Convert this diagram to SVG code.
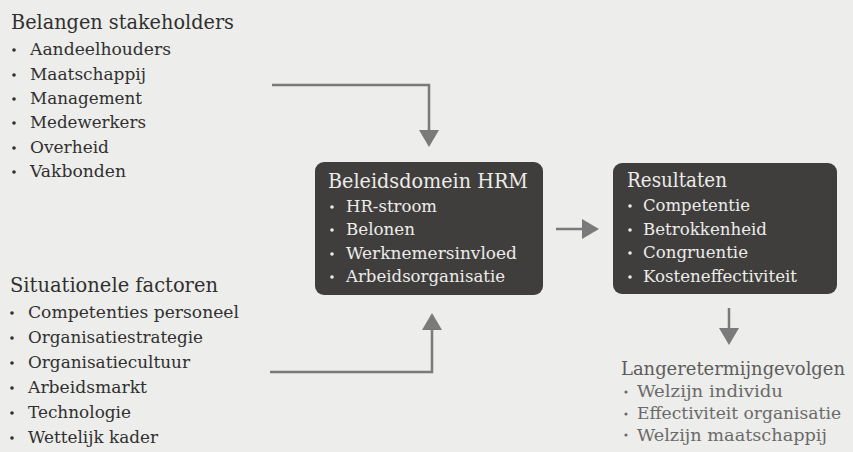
<svg xmlns="http://www.w3.org/2000/svg" width="853" height="452" viewBox="0 0 853 452">
<defs>
<style>
.t{font-family:"DejaVu Serif","Liberation Serif",serif;}
.h{font-size:19.5px;}
.i{font-size:17px;}
.s{font-size:16px;}
.dk{fill:#303030;}
.lt{fill:#ececea;}
.gr{fill:#5c5c5c;}
.gr2{fill:#6a6a6a;}
.box{fill:#403e3c;}
.con{fill:none;stroke:#7a7a7a;stroke-width:2.5;}
</style>
<marker id="arr" viewBox="0 0 17 20" refX="0" refY="10" markerWidth="17" markerHeight="20" markerUnits="userSpaceOnUse" orient="auto">
<path d="M0,0 L17,10 L0,20 Z" fill="#7a7a7a"/>
</marker>
</defs>
<rect x="0" y="0" width="853" height="452" fill="#ededeb"/>

<g id="stakeholders" class="t">
<text x="11" y="29" class="h dk" textLength="223" lengthAdjust="spacingAndGlyphs">Belangen stakeholders</text>
<g class="dk">
<circle cx="14" cy="50" r="1.8"/><circle cx="14" cy="75" r="1.8"/><circle cx="14" cy="99" r="1.8"/>
<circle cx="14" cy="123" r="1.8"/><circle cx="14" cy="148" r="1.8"/><circle cx="14" cy="172" r="1.8"/>
</g>
<text x="30" y="55" class="i dk" textLength="141" lengthAdjust="spacingAndGlyphs">Aandeelhouders</text>
<text x="30" y="80" class="i dk" textLength="116" lengthAdjust="spacingAndGlyphs">Maatschappij</text>
<text x="30" y="104" class="i dk" textLength="112" lengthAdjust="spacingAndGlyphs">Management</text>
<text x="30" y="128" class="i dk" textLength="116" lengthAdjust="spacingAndGlyphs">Medewerkers</text>
<text x="30" y="153" class="i dk" textLength="79" lengthAdjust="spacingAndGlyphs">Overheid</text>
<text x="30" y="177" class="i dk" textLength="96" lengthAdjust="spacingAndGlyphs">Vakbonden</text>
</g>

<g id="situationele" class="t">
<text x="10" y="292" class="h dk" textLength="208" lengthAdjust="spacingAndGlyphs">Situationele factoren</text>
<g class="dk">
<circle cx="12" cy="313" r="1.8"/><circle cx="12" cy="338" r="1.8"/><circle cx="12" cy="363" r="1.8"/>
<circle cx="12" cy="388" r="1.8"/><circle cx="12" cy="413" r="1.8"/><circle cx="12" cy="438" r="1.8"/>
</g>
<text x="28" y="318" class="i dk" textLength="211" lengthAdjust="spacingAndGlyphs">Competenties personeel</text>
<text x="28" y="343" class="i dk" textLength="175" lengthAdjust="spacingAndGlyphs">Organisatiestrategie</text>
<text x="28" y="368" class="i dk" textLength="162" lengthAdjust="spacingAndGlyphs">Organisatiecultuur</text>
<text x="28" y="393" class="i dk" textLength="119" lengthAdjust="spacingAndGlyphs">Arbeidsmarkt</text>
<text x="28" y="418" class="i dk" textLength="103" lengthAdjust="spacingAndGlyphs">Technologie</text>
<text x="28" y="443" class="i dk" textLength="130" lengthAdjust="spacingAndGlyphs">Wettelijk kader</text>
</g>

<g id="hrm" class="t">
<rect x="315" y="162" width="228" height="133" rx="9" class="box"/>
<text x="328" y="188" class="h lt" textLength="200" lengthAdjust="spacingAndGlyphs">Beleidsdomein HRM</text>
<g class="lt">
<circle cx="332" cy="207" r="1.8"/><circle cx="332" cy="230" r="1.8"/><circle cx="332" cy="254" r="1.8"/><circle cx="332" cy="277" r="1.8"/>
</g>
<text x="346" y="212" class="i lt" textLength="91" lengthAdjust="spacingAndGlyphs">HR-stroom</text>
<text x="346" y="235" class="i lt" textLength="69" lengthAdjust="spacingAndGlyphs">Belonen</text>
<text x="346" y="259" class="i lt" textLength="171" lengthAdjust="spacingAndGlyphs">Werknemersinvloed</text>
<text x="346" y="282" class="i lt" textLength="159" lengthAdjust="spacingAndGlyphs">Arbeidsorganisatie</text>
</g>

<g id="resultaten" class="t">
<rect x="613" y="163" width="224" height="131" rx="9" class="box"/>
<text x="627" y="187" class="h lt" textLength="100" lengthAdjust="spacingAndGlyphs">Resultaten</text>
<g class="lt">
<circle cx="630" cy="206" r="1.8"/><circle cx="630" cy="230" r="1.8"/><circle cx="630" cy="253" r="1.8"/><circle cx="630" cy="277" r="1.8"/>
</g>
<text x="643" y="211" class="i lt" textLength="107" lengthAdjust="spacingAndGlyphs">Competentie</text>
<text x="643" y="235" class="i lt" textLength="124" lengthAdjust="spacingAndGlyphs">Betrokkenheid</text>
<text x="643" y="258" class="i lt" textLength="105" lengthAdjust="spacingAndGlyphs">Congruentie</text>
<text x="643" y="282" class="i lt" textLength="154" lengthAdjust="spacingAndGlyphs">Kosteneffectiviteit</text>
</g>

<g id="gevolgen" class="t">
<text x="621" y="375" class="gr" font-size="18" textLength="224" lengthAdjust="spacingAndGlyphs">Langeretermijngevolgen</text>
<g class="gr2">
<circle cx="626" cy="392" r="1.6"/><circle cx="626" cy="414" r="1.6"/><circle cx="626" cy="435" r="1.6"/>
</g>
<text x="637" y="397" class="s gr2" textLength="146" lengthAdjust="spacingAndGlyphs">Welzijn individu</text>
<text x="637" y="419" class="s gr2" textLength="204" lengthAdjust="spacingAndGlyphs">Effectiviteit organisatie</text>
<text x="637" y="441" class="s gr2" textLength="190" lengthAdjust="spacingAndGlyphs">Welzijn maatschappij</text>
</g>

<g id="connectors">
<path class="con" d="M272,85 H429 V130" marker-end="url(#arr)"/>
<path class="con" d="M270,372 H432 V330" marker-end="url(#arr)"/>
<path class="con" d="M556,229 H582" marker-end="url(#arr)"/>
<path class="con" d="M729,308 V328" marker-end="url(#arr)"/>
</g>
</svg>
